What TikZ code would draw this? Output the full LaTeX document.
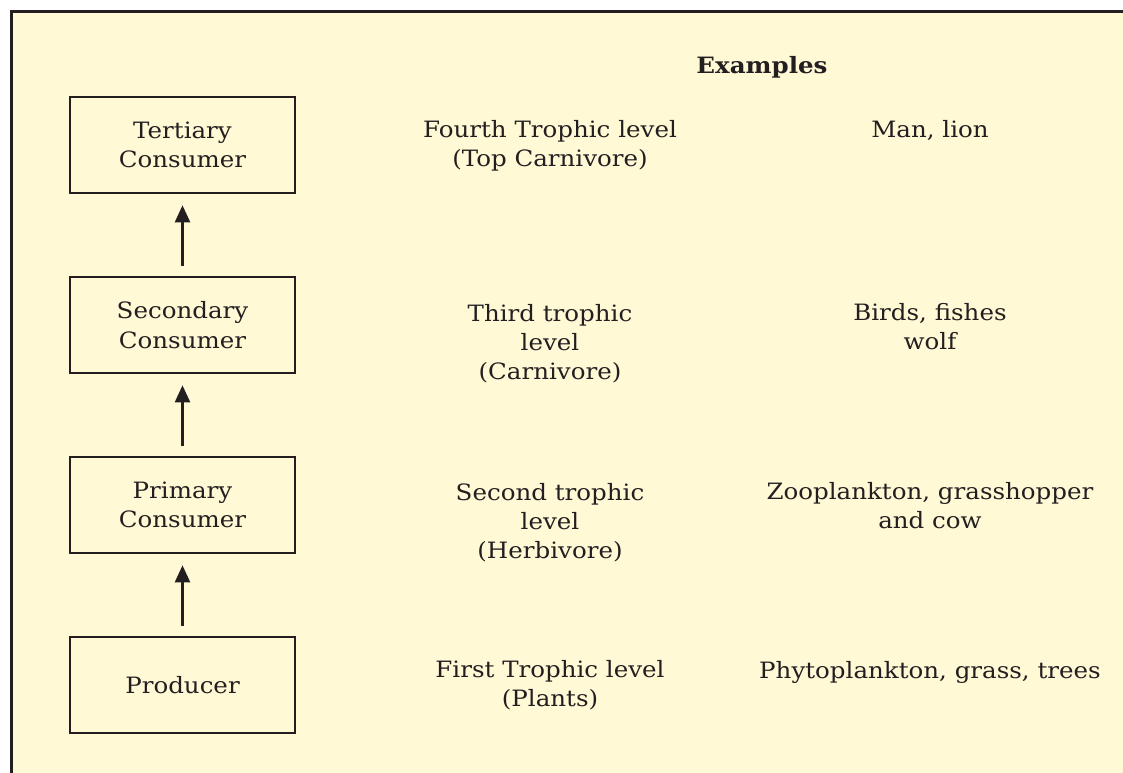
\documentclass[tikz,border=0pt]{standalone}
\usepackage{fontspec}
\setmainfont[FakeStretch=1.09]{DejaVu Serif}
\usetikzlibrary{arrows.meta}
\definecolor{bg}{HTML}{FFF9D6}
\definecolor{ink}{HTML}{231F20}
\begin{document}
\begin{tikzpicture}[x=1pt,y=-1pt,
  every node/.style={text=ink, font=\fontsize{22.5}{29.3}\selectfont, align=center, inner sep=0pt},
  levelbox/.style={draw=ink, line width=2.6pt, minimum width=225pt, minimum height=96pt, fill=bg},
  txt/.style={anchor=north},
  up/.style={draw=ink, line width=2.4pt, -{Triangle[length=17pt,width=15pt]}, shorten <=10pt, shorten >=11pt}]
\useasboundingbox (0,0) rectangle (1123,772);
\clip (0,0) rectangle (1123,772);
\draw[ink, line width=3pt, fill=bg] (11,11) rectangle (1150,800);
% boxes
\node[levelbox] (ter) at (182.5,145) {Tertiary\\Consumer};
\node[levelbox] (sec) at (182.5,325) {Secondary\\Consumer};
\node[levelbox] (pri) at (182.5,505) {Primary\\Consumer};
\node[levelbox] (pro) at (182.5,685) {Producer};
% arrows
\draw[up] (pro.north) -- (pri.south);
\draw[up] (pri.north) -- (sec.south);
\draw[up] (sec.north) -- (ter.south);
% header
\node[txt, font=\fontsize{22.5}{29.3}\selectfont\bfseries] (ex) at (762,56) {Examples};
% trophic levels
\node[txt] (t4) at (550,120) {Fourth Trophic level\\(Top Carnivore)};
\node[txt] (t3) at (550,304) {Third trophic\\level\\(Carnivore)};
\node[txt] (t2) at (550,483) {Second trophic\\level\\(Herbivore)};
\node[txt] (t1) at (550,660) {First Trophic level\\(Plants)};
% examples
\node[txt] (e4) at (930,120) {Man, lion};
\node[txt] (e3) at (930,303) {Birds, fishes\\wolf};
\node[txt] (e2) at (930,482) {Zooplankton, grasshopper\\and cow};
\node[txt] (e1) at (930,661) {Phytoplankton, grass, trees};
\end{tikzpicture}
\end{document}
